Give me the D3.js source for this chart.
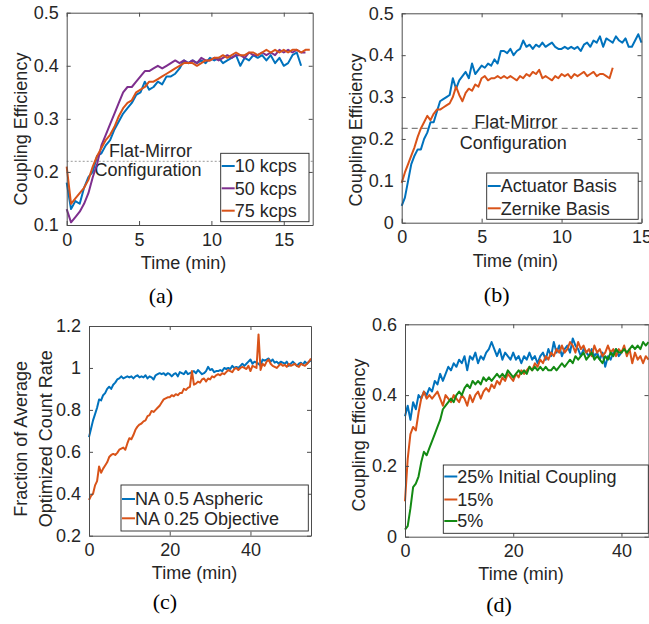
<!DOCTYPE html>
<head>
<meta charset="utf-8">
<style>
  body { margin: 0; background: #fff; }
  text { font-family: "Liberation Sans", Arial, Helvetica, sans-serif; fill: #262626; }
  .axis path, .axis line { stroke: #4d4d4d; stroke-width: 1; }
  .axis text { font-size: 18px; fill: #262626; font-family: "Liberation Sans", Arial, sans-serif; }
  .caption { font-family: "Liberation Serif", "Times New Roman", serif; font-size: 22px; fill: #000; }
  .lbl { font-size: 18px; }
</style>
</head>
<body>
<svg width="649" height="624"></svg>
<script src="https://d3js.org/d3.v7.min.js"></script>
<script>
// ---- data ----
// (a) coupling efficiency vs time, sampled every 0.3 min
var dtA = 0.3;
var a10kcps = [0.18,0.13,0.145,0.14,0.17,0.19,0.2,0.23,0.235,0.25,0.26,0.28,0.295,0.31,0.32,0.33,0.345,0.35,0.37,0.355,
  0.36,0.37,0.365,0.38,0.38,0.385,0.395,0.41,0.405,0.41,0.405,0.41,0.405,0.415,0.41,0.415,0.405,0.41,0.415,0.42,
  0.40,0.415,0.41,0.42,0.415,0.42,0.41,0.42,0.405,0.415,0.40,0.405,0.42,0.425,0.40];
var a50kcps = [0.13,0.105,0.115,0.125,0.14,0.16,0.19,0.215,0.25,0.27,0.29,0.31,0.33,0.35,0.36,0.36,0.37,0.38,0.39,0.39,
  0.395,0.40,0.395,0.40,0.405,0.41,0.405,0.41,0.405,0.41,0.405,0.415,0.41,0.41,0.415,0.41,0.415,0.42,0.415,0.42,
  0.42,0.415,0.425,0.42,0.42,0.425,0.42,0.425,0.42,0.43,0.425,0.43,0.425,0.43,0.425,0.425];
var a75kcps = [0.21,0.14,0.15,0.16,0.17,0.185,0.21,0.23,0.245,0.26,0.27,0.285,0.305,0.32,0.33,0.335,0.35,0.355,0.36,0.37,
  0.37,0.375,0.38,0.385,0.39,0.395,0.40,0.405,0.405,0.405,0.40,0.405,0.41,0.41,0.415,0.415,0.42,0.415,0.42,0.425,
  0.42,0.42,0.425,0.425,0.42,0.425,0.43,0.425,0.43,0.425,0.43,0.425,0.43,0.43,0.425,0.43,0.43];
var flatMirrorA = 0.22;

// (b) actuator vs zernike basis, every 0.2 min
var dtB = 0.2;
var bActuator = [0.04,0.06,0.1,0.14,0.16,0.175,0.175,0.2,0.215,0.24,0.24,0.265,0.29,0.295,0.30,0.305,0.345,0.32,0.34,0.35,
  0.36,0.345,0.38,0.355,0.365,0.375,0.37,0.38,0.375,0.39,0.38,0.41,0.41,0.405,0.415,0.40,0.41,0.415,0.435,0.42,
  0.425,0.415,0.425,0.42,0.43,0.42,0.425,0.43,0.42,0.415,0.415,0.42,0.415,0.42,0.415,0.42,0.41,0.425,0.43,0.42,
  0.435,0.43,0.445,0.42,0.44,0.435,0.43,0.445,0.435,0.43,0.44,0.42,0.42,0.435,0.45,0.43];
var bZernike = [0.095,0.12,0.14,0.16,0.18,0.205,0.225,0.24,0.255,0.245,0.26,0.27,0.27,0.275,0.28,0.285,0.3,0.325,0.305,0.29,
  0.31,0.32,0.315,0.33,0.325,0.345,0.35,0.34,0.345,0.345,0.35,0.345,0.35,0.345,0.35,0.345,0.34,0.35,0.345,0.355,
  0.35,0.36,0.355,0.365,0.345,0.35,0.345,0.34,0.35,0.345,0.355,0.35,0.355,0.345,0.355,0.35,0.355,0.36,0.35,0.355,
  0.36,0.35,0.355,0.355,0.35,0.345,0.37];
var flatMirrorB = 0.225;

// (c) normalised count rate, every 0.5 min
var dtC = 0.5;
var cAspheric = [0.67,0.71,0.75,0.78,0.81,0.85,0.845,0.87,0.88,0.90,0.91,0.90,0.92,0.93,0.945,0.95,0.96,0.95,0.955,0.96,
  0.955,0.96,0.95,0.96,0.965,0.955,0.96,0.955,0.965,0.95,0.96,0.955,0.945,0.965,0.97,0.975,0.97,0.975,0.965,0.975,
  0.97,0.96,0.97,0.975,0.96,0.98,0.975,0.97,0.985,0.97,0.975,0.98,0.985,0.975,0.99,0.98,0.97,0.975,0.985,1.005,
  0.99,0.995,0.98,0.985,0.985,0.99,0.985,1.0,0.995,1.0,0.995,1.01,1.0,1.005,1.0,1.01,1.02,1.01,1.02,1.03,
  1.04,1.02,1.03,1.025,1.02,1.01,1.04,1.035,1.04,1.045,1.03,1.04,1.025,1.03,1.02,1.03,1.025,1.02,1.03,1.01,
  1.02,1.03,1.02,1.01,1.02,1.025,1.015,1.03,1.02,1.03,1.035];
var cObjective = [0.37,0.39,0.40,0.44,0.46,0.53,0.50,0.52,0.535,0.55,0.575,0.585,0.59,0.585,0.595,0.61,0.615,0.62,0.61,0.64,
  0.665,0.66,0.68,0.705,0.72,0.73,0.735,0.745,0.75,0.77,0.775,0.795,0.79,0.80,0.81,0.82,0.835,0.85,0.855,0.86,
  0.86,0.87,0.865,0.875,0.87,0.88,0.88,0.90,0.895,0.905,0.91,0.985,0.92,0.925,0.935,0.93,0.945,0.95,0.935,0.95,
  0.945,0.96,0.955,0.965,0.97,0.965,0.975,0.97,0.98,0.99,0.985,0.98,0.995,1.0,0.99,1.0,1.005,1.0,0.995,1.01,
  0.985,1.01,1.005,1.0,1.16,0.99,1.02,1.01,1.03,1.04,1.02,1.01,1.005,1.0,1.01,1.02,1.01,1.015,1.005,1.02,
  1.01,1.015,1.02,1.01,1.005,1.02,1.015,1.01,1.02,1.03,1.045];

// (d) different initial coupling, every 0.5 min
var dtD = 0.5;
var d25 = [0.34,0.37,0.33,0.38,0.36,0.40,0.39,0.41,0.40,0.42,0.41,0.44,0.43,0.46,0.44,0.46,0.48,0.47,0.49,0.48,
  0.50,0.49,0.51,0.47,0.51,0.50,0.52,0.49,0.51,0.50,0.52,0.53,0.55,0.53,0.51,0.53,0.50,0.52,0.51,0.50,
  0.52,0.50,0.51,0.49,0.51,0.50,0.52,0.50,0.51,0.49,0.51,0.52,0.50,0.53,0.51,0.55,0.52,0.54,0.51,0.53,
  0.54,0.52,0.56,0.54,0.53,0.51,0.53,0.52,0.51,0.53,0.51,0.52,0.50,0.52,0.48,0.51,0.50,0.52,0.53,0.51,0.52];
var d15 = [0.10,0.22,0.29,0.31,0.30,0.35,0.39,0.41,0.39,0.40,0.39,0.40,0.41,0.39,0.37,0.40,0.39,0.38,0.40,0.39,
  0.38,0.40,0.39,0.37,0.40,0.38,0.40,0.41,0.39,0.41,0.42,0.41,0.43,0.42,0.44,0.43,0.45,0.44,0.46,0.45,
  0.44,0.46,0.45,0.47,0.46,0.47,0.48,0.47,0.49,0.48,0.50,0.49,0.51,0.50,0.52,0.51,0.53,0.52,0.54,0.52,
  0.53,0.55,0.54,0.52,0.55,0.53,0.54,0.52,0.53,0.51,0.54,0.52,0.53,0.51,0.52,0.54,0.52,0.53,0.51,0.53,
  0.52,0.54,0.51,0.53,0.49,0.52,0.50,0.51,0.49,0.51,0.50];
var d5 = [0.02,0.03,0.08,0.14,0.15,0.17,0.21,0.24,0.23,0.25,0.27,0.29,0.31,0.33,0.36,0.37,0.38,0.39,0.38,0.40,
  0.41,0.40,0.42,0.43,0.42,0.44,0.43,0.44,0.43,0.45,0.44,0.45,0.44,0.45,0.46,0.45,0.46,0.45,0.47,0.46,
  0.45,0.46,0.47,0.46,0.47,0.46,0.48,0.47,0.48,0.47,0.48,0.47,0.48,0.47,0.47,0.48,0.47,0.48,0.49,0.48,
  0.49,0.50,0.49,0.51,0.50,0.51,0.52,0.50,0.51,0.52,0.50,0.51,0.50,0.49,0.51,0.50,0.52,0.51,0.53,0.52,
  0.52,0.53,0.52,0.53,0.54,0.53,0.54,0.53,0.55,0.54,0.55];

var BLUE = "#0072BD", ORANGE = "#D95319", PURPLE = "#7E2F8E", GREEN = "#138a13";

var svg = d3.select("svg");
svg.append("rect").attr("width", 649).attr("height", 624).attr("fill", "#fff");

function toPts(vals, dt) { return vals.map(function(v, i) { return [i * dt, v]; }); }
function fmt(d) { return String(+d.toFixed(3)); }

function panel(p) {
  var x = d3.scaleLinear().domain(p.xDomain).range([p.left, p.right]);
  var y = d3.scaleLinear().domain(p.yDomain).range([p.bottom, p.top]);
  var g = svg.append("g");

  // reference line
  if (p.ref) {
    g.append("line")
      .attr("x1", x(p.xDomain[0])).attr("x2", x(p.xDomain[1]))
      .attr("y1", y(p.ref.value)).attr("y2", y(p.ref.value))
      .attr("stroke", "#7f7f7f").attr("stroke-width", p.ref.width)
      .attr("stroke-dasharray", p.ref.dash);
    p.ref.text.forEach(function(t) {
      g.append("text").attr("class", "lbl").attr("x", t[0]).attr("y", t[1])
        .attr("text-anchor", "middle").text(t[2]);
    });
  }

  var line = d3.line().x(function(d) { return x(d[0]); }).y(function(d) { return y(d[1]); });
  p.series.forEach(function(s) {
    g.append("path").datum(toPts(s.values, s.dt))
      .attr("fill", "none").attr("stroke", s.color).attr("stroke-width", 2)
      .attr("stroke-linejoin", "round").attr("d", line);
  });

  // axes (ticks inside, box on)
  function styl(a) { a.selectAll("text").style("font-size", "18px"); }
  g.append("g").attr("class", "axis").attr("transform", "translate(0," + p.bottom + ")")
    .call(d3.axisBottom(x).tickValues(p.xTicks).tickFormat(fmt).tickSizeInner(-4).tickSizeOuter(0).tickPadding(8)).call(styl);
  g.append("g").attr("class", "axis").attr("transform", "translate(" + p.left + ",0)")
    .call(d3.axisLeft(y).tickValues(p.yTicks).tickFormat(fmt).tickSizeInner(-4).tickSizeOuter(0).tickPadding(8)).call(styl);
  g.append("g").attr("class", "axis").attr("transform", "translate(0," + p.top + ")")
    .call(d3.axisTop(x).tickValues(p.xTicks).tickFormat("").tickSizeInner(-4).tickSizeOuter(0));
  g.append("g").attr("class", "axis").attr("transform", "translate(" + p.right + ",0)")
    .call(d3.axisRight(y).tickValues(p.yTicks).tickFormat("").tickSizeInner(-4).tickSizeOuter(0));
  g.selectAll(".axis .domain").attr("stroke", "#4d4d4d");

  // legend
  var L = p.legend;
  g.append("rect").attr("x", L.x).attr("y", L.y).attr("width", L.w).attr("height", L.h)
    .attr("fill", "#fff").attr("stroke", "#262626").attr("stroke-width", 0.9);
  p.series.forEach(function(s, i) {
    var cy = L.rows[i];
    g.append("line").attr("x1", L.x + 1).attr("x2", L.x + 14).attr("y1", cy).attr("y2", cy)
      .attr("stroke", s.color).attr("stroke-width", 2);
    g.append("text").attr("class", "lbl").attr("x", L.x + 14).attr("y", cy).attr("dy", "0.36em").text(s.name);
  });

  // labels
  g.append("text").attr("class", "lbl").attr("x", p.xLabel[0]).attr("y", p.xLabel[1])
    .attr("text-anchor", "middle").text("Time (min)");
  p.yLabel.forEach(function(t) {
    g.append("text").attr("class", "lbl").attr("text-anchor", "middle")
      .attr("transform", "translate(" + t[0] + "," + t[1] + ") rotate(-90)").text(t[2]);
  });
  g.append("text").attr("class", "caption").attr("x", p.caption[0]).attr("y", p.caption[1])
    .attr("text-anchor", "middle").text(p.caption[2]);
}

panel({
  left: 66.7, right: 312.7, top: 12.7, bottom: 225,
  xDomain: [0, 17], yDomain: [0.1, 0.5],
  xTicks: [0, 5, 10, 15], yTicks: [0.1, 0.2, 0.3, 0.4, 0.5],
  ref: { value: flatMirrorA, dash: "2,2", width: 0.8,
         text: [[150.5, 156.5, "Flat-Mirror"], [148, 176, "Configuration"]] },
  series: [
    { name: "10 kcps", values: a10kcps, dt: dtA, color: BLUE },
    { name: "50 kcps", values: a50kcps, dt: dtA, color: PURPLE },
    { name: "75 kcps", values: a75kcps, dt: dtA, color: ORANGE }
  ],
  legend: { x: 220.7, y: 153.3, w: 88.3, h: 68.4, rows: [166, 188.3, 210.7] },
  xLabel: [183.5, 268.5], yLabel: [[26.5, 129, "Coupling Efficiency"]],
  caption: [161, 303, "(a)"]
});

panel({
  left: 401.7, right: 641.5, top: 13.3, bottom: 222.7,
  xDomain: [0, 15], yDomain: [0, 0.5],
  xTicks: [0, 5, 10, 15], yTicks: [0, 0.1, 0.2, 0.3, 0.4, 0.5],
  ref: { value: flatMirrorB, dash: "6,4", width: 1.2,
         text: [[515.8, 128, "Flat-Mirror"], [513.3, 148.5, "Configuration"]] },
  series: [
    { name: "Actuator Basis", values: bActuator, dt: dtB, color: BLUE },
    { name: "Zernike Basis", values: bZernike, dt: dtB, color: ORANGE }
  ],
  legend: { x: 486.7, y: 173, w: 151.5, h: 46.3, rows: [186, 208.3] },
  xLabel: [515.3, 267], yLabel: [[361.7, 130, "Coupling Efficiency"]],
  caption: [496.7, 302, "(b)"]
});

panel({
  left: 89, right: 311, top: 326, bottom: 535.7,
  xDomain: [0, 55], yDomain: [0.2, 1.2],
  xTicks: [0, 20, 40], yTicks: [0.2, 0.4, 0.6, 0.8, 1, 1.2],
  series: [
    { name: "NA 0.5 Aspheric", values: cAspheric, dt: dtC, color: BLUE },
    { name: "NA 0.25 Objective", values: cObjective, dt: dtC, color: ORANGE }
  ],
  legend: { x: 121, y: 485, w: 187.3, h: 46, rows: [499, 518.3] },
  xLabel: [194.5, 578.5],
  yLabel: [[26.5, 438.8, "Fraction of Average"], [51.5, 438.8, "Optimized Count Rate"]],
  caption: [165, 609, "(c)"]
});

panel({
  left: 405, right: 648.5, top: 324.3, bottom: 536.7,
  xDomain: [0, 45], yDomain: [0, 0.6],
  xTicks: [0, 20, 40], yTicks: [0, 0.2, 0.4, 0.6],
  series: [
    { name: "25% Initial Coupling", values: d25, dt: dtD, color: BLUE },
    { name: "15%", values: d15, dt: dtD, color: ORANGE },
    { name: "5%", values: d5, dt: dtD, color: GREEN }
  ],
  legend: { x: 443.3, y: 465, w: 205, h: 68.3, rows: [476.5, 499.5, 521] },
  xLabel: [521, 580], yLabel: [[364.5, 435, "Coupling Efficiency"]],
  caption: [499, 612, "(d)"]
});
</script>
</body>
